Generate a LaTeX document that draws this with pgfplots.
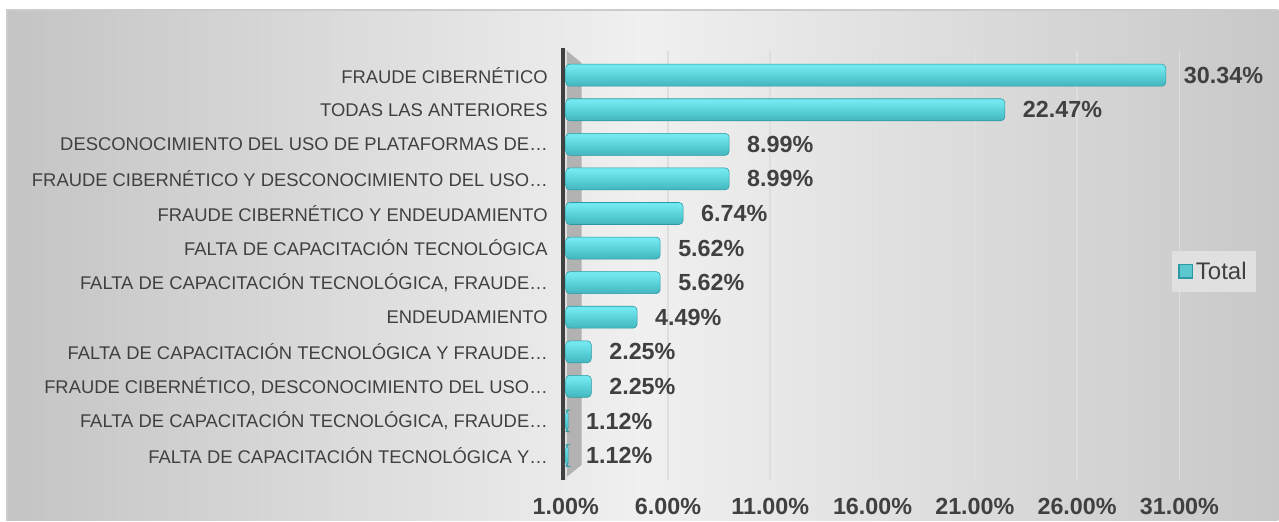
\documentclass[border=0pt]{standalone}
\usepackage{pgfplots}
\pgfplotsset{compat=1.18}
\usepackage{fontspec}
\setmainfont{Liberation Sans}
\definecolor{txt}{HTML}{404040}
\definecolor{bgside}{HTML}{C4C4C4}
\definecolor{bgmid}{HTML}{F0F0F0}
\definecolor{bgright}{HTML}{C8C8C8}
\definecolor{barline}{HTML}{2C9AA2}
\definecolor{barleg}{HTML}{5BC7CF}
\definecolor{cylA}{HTML}{2E7A80}
\definecolor{cylB}{HTML}{3AA9B1}
\definecolor{cylC}{HTML}{55CDD5}
\definecolor{cylD}{HTML}{74E8F0}
\definecolor{cylE}{HTML}{6BE2EA}
\definecolor{cylF}{HTML}{3EB6BE}
\pgfdeclareverticalshading{cyl}{100bp}{color(0bp)=(cylA); color(15bp)=(cylB); color(45bp)=(cylC); color(70bp)=(cylD); color(88bp)=(cylE); color(100bp)=(cylF)}

\pgfplotsset{cylbar/.style={xbar, bar shift=0pt, draw=barline, shade, shading=cyl, rounded corners=3pt, forget plot}}

\begin{document}
\begin{tikzpicture}
% page and chart area (pixel units, y up)
\begin{scope}[x=0.75pt,y=0.75pt]
\fill[white] (0,0) rectangle (1279,521);
\shade[left color=bgside, right color=bgright, middle color=bgmid] (7,0) rectangle (1279,511);
\draw[gray!40, line width=1pt] (7,0) -- (7,511) -- (1279,511);
% 3d wall
\fill[gray!60] (566,471) -- (582,458) -- (582,56) -- (566,43) -- cycle;
\draw[txt, line width=3pt] (563,473) -- (563,41);
\end{scope}

\begin{axis}[
    at={(424.5pt,30.75pt)}, anchor=south west,
    scale only axis,
    width=460.5pt, height=321.75pt,
    xbar,
    bar width=16.5pt,
    xmin=1, xmax=31,
    ymin=-0.7, ymax=11.7,
    axis line style={draw=none},
    major tick length=0pt,
    xtick={1,6,11,16,21,26,31},
    xticklabels={1.00\%,6.00\%,11.00\%,16.00\%,21.00\%,26.00\%,31.00\%},
    xticklabel style={font=\fontsize{17.5}{20}\selectfont\bfseries, text=txt, yshift=-10pt},
    ytick={0,...,11},
    yticklabels={
        {FALTA DE CAPACITACIÓN TECNOLÓGICA Y…},
        {FALTA DE CAPACITACIÓN TECNOLÓGICA, FRAUDE…},
        {FRAUDE CIBERNÉTICO, DESCONOCIMIENTO DEL USO…},
        {FALTA DE CAPACITACIÓN TECNOLÓGICA Y FRAUDE…},
        {ENDEUDAMIENTO},
        {FALTA DE CAPACITACIÓN TECNOLÓGICA, FRAUDE…},
        {FALTA DE CAPACITACIÓN TECNOLÓGICA},
        {FRAUDE CIBERNÉTICO Y ENDEUDAMIENTO},
        {FRAUDE CIBERNÉTICO Y DESCONOCIMIENTO DEL USO…},
        {DESCONOCIMIENTO DEL USO DE PLATAFORMAS DE…},
        {TODAS LAS ANTERIORES},
        {FRAUDE CIBERNÉTICO}},
    yticklabel style={font=\fontsize{13.8}{16}\selectfont, text=txt, xshift=-10pt},
    xmajorgrids,
    grid style={draw=black!13, line width=1.2pt},
    /pgf/number format/assume math mode=true,
    point meta=x,
    nodes near coords={\pgfmathprintnumber[fixed,fixed zerofill,precision=2]{\pgfplotspointmeta}\%},
    nodes near coords style={font=\fontsize{17.5}{20}\selectfont\bfseries, text=txt, anchor=west, xshift=10pt},
    legend style={at={(0.987,0.438)}, anchor=south west, fill=black!12, draw=none,
        inner xsep=5pt, inner ysep=6pt,
        font=\fontsize{18}{21}\selectfont, text=txt},
]
\addplot[cylbar] coordinates {(1.12,0)};
\addplot[cylbar] coordinates {(1.12,1)};
\addplot[cylbar] coordinates {(2.25,2)};
\addplot[cylbar] coordinates {(2.25,3)};
\addplot[cylbar] coordinates {(4.49,4)};
\addplot[cylbar] coordinates {(5.62,5)};
\addplot[cylbar] coordinates {(5.62,6)};
\addplot[cylbar] coordinates {(6.74,7)};
\addplot[cylbar] coordinates {(8.99,8)};
\addplot[cylbar] coordinates {(8.99,9)};
\addplot[cylbar] coordinates {(22.47,10)};
\addplot[cylbar] coordinates {(30.34,11)};
\addlegendimage{legend image code/.code={\draw[draw=barline, fill=barleg, line width=1.2pt] (0pt,-5pt) rectangle (10pt,5pt);}}
\addlegendentry{Total}
\end{axis}
\end{tikzpicture}
\end{document}
